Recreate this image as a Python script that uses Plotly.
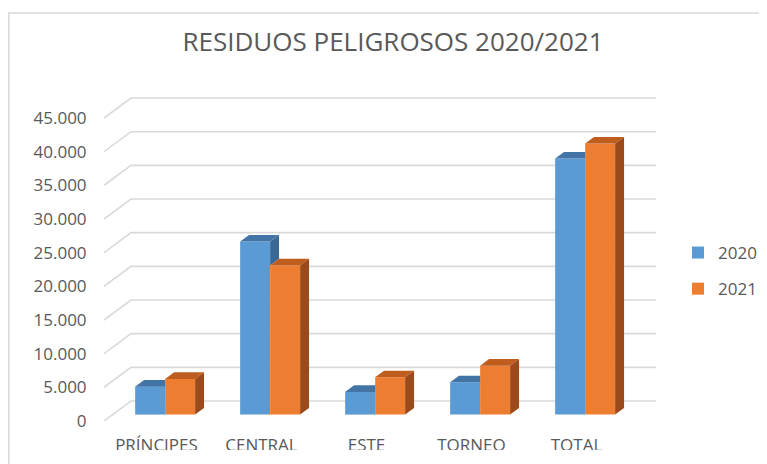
import plotly.graph_objects as go

# ---------------- data ----------------
categories = ["PRÍNCIPES", "CENTRAL", "ESTE", "TORNEO", "TOTAL"]
series_names = ["2020", "2021"]
values_2020 = [4150, 25700, 3370, 4800, 38020]
values_2021 = [5300, 22150, 5540, 7270, 40260]
y_ticks = [0, 5000, 10000, 15000, 20000, 25000, 30000, 35000, 40000, 45000]

# ---------------- geometry / style ----------------
OFF = 8  # page body margin
W_PX, H_PX = 767 - OFF, 464 - OFF
sx = lambda px: px - OFF   # screen px -> figure px
M_L = sx(104)
M_T = sx(97)
M_R = W_PX - sx(656)
M_B = H_PX - sx(421)
PX_PER_CAT = 105.0
PX_PER_VAL = 0.006733
plot_w = W_PX - M_L - M_R
plot_h = H_PX - M_T - M_B
X0 = -0.5
X1 = X0 + plot_w / PX_PER_CAT
Y1 = plot_h / PX_PER_VAL

WALL_DX = 27 / PX_PER_CAT          # depth offset of back wall (x units)
WALL_DY = 20 / PX_PER_VAL          # depth offset of back wall (y units)
BAR_D0, BAR_D1 = 0.32, 0.65        # bar front / back depth fractions
BW = 30 / PX_PER_CAT               # bar width

bdx0, bdy0 = BAR_D0 * WALL_DX, BAR_D0 * WALL_DY
ddx, ddy = (BAR_D1 - BAR_D0) * WALL_DX, (BAR_D1 - BAR_D0) * WALL_DY

BLUE, BLUE_TOP, BLUE_SIDE = "#5B9BD5", "#4275A6", "#3A6892"
ORANGE, ORANGE_TOP, ORANGE_SIDE = "#ED7D31", "#BF5D1F", "#9A4A1B"
GRID = "#d9d9d9"
TXT = "#595959"
FONT = "Open Sans"

fig = go.Figure()

# front faces (real bars)
fig.add_trace(go.Bar(
    x=[i + bdx0 - BW / 2 for i in range(len(categories))], y=values_2020,
    base=bdy0, width=BW, name=series_names[0], marker=dict(color=BLUE, line=dict(width=0)),
    legendgroup="a", hoverinfo="skip"))
fig.add_trace(go.Bar(
    x=[i + bdx0 + BW / 2 for i in range(len(categories))], y=values_2021,
    base=bdy0, width=BW, name=series_names[1], marker=dict(color=ORANGE, line=dict(width=0)),
    legendgroup="b", hoverinfo="skip"))


def add_polys(polys, color):
    xs, ys = [], []
    for p in polys:
        for (x, y) in p + [p[0]]:
            xs.append(x)
            ys.append(y)
        xs.append(None)
        ys.append(None)
    fig.add_trace(go.Scatter(x=xs, y=ys, mode="lines", fill="toself", fillcolor=color,
                             line=dict(width=0, color=color), showlegend=False, hoverinfo="skip"))


blue_tops, blue_sides, or_tops, or_sides = [], [], [], []
for i in range(len(categories)):
    xl = i + bdx0 - BW
    xm = i + bdx0
    xr = i + bdx0 + BW
    tb = bdy0 + values_2020[i]
    to = bdy0 + values_2021[i]
    # blue cap (clipped by orange front)
    if to <= tb:
        blue_tops.append([(xl, tb), (xm, tb), (xm + ddx, tb + ddy), (xl + ddx, tb + ddy)])
        blue_sides.append([(xm, to), (xm + ddx, to + ddy), (xm + ddx, tb + ddy), (xm, tb)])
    elif to >= tb + ddy:
        blue_tops.append([(xl, tb), (xm, tb), (xm, tb + ddy), (xl + ddx, tb + ddy)])
    else:
        xc = xm + (to - tb) / ddy * ddx
        blue_tops.append([(xl, tb), (xm, tb), (xm, to), (xc, to), (xm + ddx, tb + ddy), (xl + ddx, tb + ddy)])
    or_tops.append([(xm, to), (xr, to), (xr + ddx, to + ddy), (xm + ddx, to + ddy)])
    or_sides.append([(xr, bdy0), (xr + ddx, bdy0 + ddy), (xr + ddx, to + ddy), (xr, to)])

add_polys(blue_tops, BLUE_TOP)
if blue_sides:
    add_polys(blue_sides, BLUE_SIDE)
add_polys(or_tops, ORANGE_TOP)
add_polys(or_sides, ORANGE_SIDE)

# gridlines (behind the bars)
shapes = []
for v in y_ticks:
    shapes.append(dict(type="path", xref="x", yref="y", layer="below",
                       path=f"M{X0},{v} L{X0 + WALL_DX},{v + WALL_DY} L{X1},{v + WALL_DY}",
                       line=dict(color=GRID, width=1.6)))

# chart border (left/top visible), given in screen px
px2x = lambda px: (sx(px) - M_L) / plot_w
px2y = lambda py: (H_PX - M_B - sx(py)) / plot_h
shapes.append(dict(type="rect", xref="paper", yref="paper", layer="below",
                   x0=px2x(8.8), x1=px2x(900), y0=px2y(13), y1=px2y(600),
                   line=dict(color=GRID, width=1.5), fillcolor="rgba(0,0,0,0)"))
# category labels are cut at the bottom edge in the reference
shapes.append(dict(type="rect", xref="paper", yref="paper", layer="above",
                   x0=px2x(20), x1=px2x(760), y0=px2y(450), y1=px2y(480),
                   line=dict(width=0), fillcolor="white"))

fig.update_layout(
    width=W_PX, height=H_PX,
    margin=dict(l=M_L, r=M_R, t=M_T, b=M_B, autoexpand=False),
    paper_bgcolor="white", plot_bgcolor="white",
    barmode="overlay", separators=",.",
    font=dict(family=FONT, size=17, color=TXT),
    title=dict(text="RESIDUOS PELIGROSOS 2020/2021", x=sx(393) / W_PX, y=1 - sx(42) / H_PX,
               xref="container", yref="container", xanchor="center", yanchor="middle",
               font=dict(family=FONT, size=26, color=TXT)),
    xaxis=dict(range=[X0, X1], tickvals=list(range(len(categories))), ticktext=categories,
               showgrid=False, zeroline=False, showline=False,
               ticks="outside", ticklen=9, tickcolor="rgba(0,0,0,0)",
               tickfont=dict(family=FONT, size=17, color=TXT), fixedrange=True),
    yaxis=dict(range=[0, Y1], tickvals=y_ticks, tickformat=",d",
               showgrid=False, zeroline=False, showline=False,
               ticks="outside", ticklen=13, tickcolor="rgba(0,0,0,0)",
               tickfont=dict(family=FONT, size=17, color=TXT), fixedrange=True),
    legend=dict(x=sx(678) / W_PX, y=1 - sx(271) / H_PX, xref="container", yref="container",
                xanchor="left", yanchor="middle", traceorder="grouped", tracegroupgap=11,
                font=dict(family=FONT, size=17, color=TXT), bgcolor="rgba(0,0,0,0)"),
    shapes=shapes,
    showlegend=True,
)

fig.write_html("out.html")
